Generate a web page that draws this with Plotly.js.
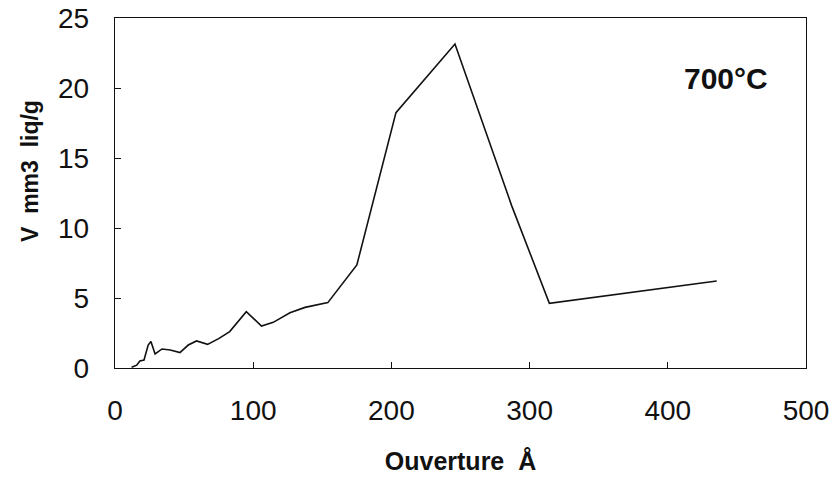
<!DOCTYPE html>
<html>
<head>
<meta charset="utf-8">
<script src="https://cdn.plot.ly/plotly-3.0.1.min.js"></script>
<style>html,body{margin:0;padding:0;background:#fff;}#chart{width:836px;height:482px;}</style>
</head>
<body>
<div id="chart"></div>
<script>
// Ouverture (Å)
const ouverture = [12, 15.7, 18, 21, 24, 26, 29, 34, 40, 47, 53, 59, 67, 75, 83, 95, 106, 114.5, 126.6, 137.5, 154, 175, 203.3, 246, 287, 314.3, 435.4];
// V mm3 liq/g
const volume = [0.05, 0.2, 0.5, 0.57, 1.64, 1.9, 1.0, 1.36, 1.29, 1.1, 1.64, 1.93, 1.69, 2.1, 2.6, 4.02, 3.0, 3.26, 3.95, 4.33, 4.67, 7.36, 18.24, 23.14, 11.6, 4.62, 6.21];
const xTicks = [0, 100, 200, 300, 400, 500];
const yTicks = [0, 5, 10, 15, 20, 25];
const label = "700°C";
const yTitle = "V  mm3  liq/g";
const xTitle = "Ouverture  Å";

const fam = "Liberation Sans, Arial, Helvetica, sans-serif";
const tickFont = {family: fam, size: 28, color: "#111"};

Plotly.newPlot("chart", [{
  x: ouverture, y: volume, type: "scatter", mode: "lines",
  line: {color: "#111", width: 1.6}, hoverinfo: "skip"
}], {
  width: 836, height: 482,
  margin: {l: 115, r: 30, t: 18, b: 114},
  paper_bgcolor: "#fff", plot_bgcolor: "#fff",
  showlegend: false,
  xaxis: {
    range: [0, 500], tickvals: xTicks,
    ticks: "inside", ticklen: 6, tickcolor: "#111", tickwidth: 1,
    showline: true, linecolor: "#111", linewidth: 1.3, mirror: true,
    showgrid: false, zeroline: false, tickfont: tickFont, ticklabelstandoff: 17,
    title: {text: "<b>" + xTitle + "</b>", font: {family: fam, size: 25, color: "#111"}, standoff: 27}
  },
  yaxis: {
    range: [0, 25], tickvals: yTicks,
    ticks: "inside", ticklen: 6, tickcolor: "#111", tickwidth: 1,
    showline: true, linecolor: "#111", linewidth: 1.3, mirror: true,
    showgrid: false, zeroline: false, tickfont: tickFont, ticklabelstandoff: 19
  },
  annotations: [{
    text: "<b>" + label + "</b>", xref: "paper", yref: "paper", x: 0.948, y: 0.826,
    xanchor: "right", yanchor: "middle", showarrow: false,
    font: {family: fam, size: 30, color: "#111"}
  }, {
    text: "<b>" + yTitle + "</b>", xref: "paper", yref: "paper", x: -0.123, y: 0.563,
    xanchor: "center", yanchor: "middle", textangle: -90, showarrow: false,
    font: {family: fam, size: 23, color: "#111"}
  }]
}, {staticPlot: true});
</script>
</body>
</html>
